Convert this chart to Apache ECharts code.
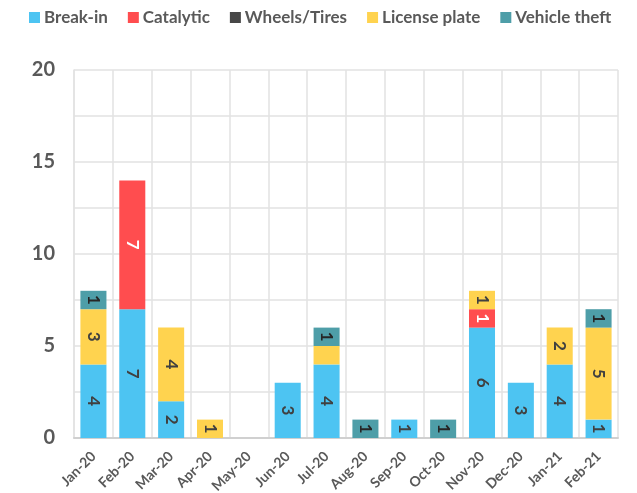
<!DOCTYPE html>
<html>
<head>
<meta charset="utf-8">
<script src="https://cdn.jsdelivr.net/npm/echarts@6/dist/echarts.min.js"></script>
<style>
html,body{margin:0;padding:0;background:#fff;}
#chart{width:637px;height:493px;}
</style>
</head>
<body>
<div id="chart"></div>
<script>
const months = ['Jan-20','Feb-20','Mar-20','Apr-20','May-20','Jun-20','Jul-20','Aug-20','Sep-20','Oct-20','Nov-20','Dec-20','Jan-21','Feb-21'];
const breakIn      = [4, 7, 2, 0, 0, 3, 4, 0, 1, 0, 6, 3, 4, 1];
const catalytic    = [0, 7, 0, 0, 0, 0, 0, 0, 0, 0, 1, 0, 0, 0];
const wheelsTires  = [0, 0, 0, 0, 0, 0, 0, 0, 0, 0, 0, 0, 0, 0];
const licensePlate = [3, 0, 4, 1, 0, 0, 1, 0, 0, 0, 1, 0, 2, 5];
const vehicleTheft = [1, 0, 0, 0, 0, 0, 1, 1, 0, 1, 0, 0, 0, 1];
// segments drawn without a value label
const unlabeled = {'License plate': [6]};

const yTicks = [0, 5, 10, 15, 20];

const FONT = 'Lato, "Open Sans", sans-serif';

function makeSeries(name, values, color, labelColor) {
  const hidden = unlabeled[name] || [];
  return {
    name: name,
    type: 'bar',
    stack: 'total',
    barCategoryGap: '33%',
    itemStyle: { color: color },
    label: {
      show: true,
      position: 'inside',
      rotate: -90,
      color: labelColor,
      fontFamily: FONT,
      fontWeight: 'bold',
      fontSize: 17
    },
    data: values.map((v, i) => {
      if (v === 0) return { value: null };
      const item = { value: v };
      if (hidden.includes(i)) item.label = { show: false };
      return item;
    })
  };
}

const chart = echarts.init(document.getElementById('chart'));
chart.setOption({
  animation: false,
  backgroundColor: '#ffffff',
  legend: {
    top: 4,
    left: 24,
    itemWidth: 11,
    itemHeight: 11,
    itemGap: 20,
    icon: 'rect',
    textStyle: { fontFamily: FONT, fontWeight: 'bold', fontSize: 17, color: '#595959', padding: [0, 0, 0, -1] }
  },
  grid: { left: 74, right: 19, top: 70, bottom: 55, containLabel: false, outerBoundsMode: 'none' },
  xAxis: {
    type: 'category',
    data: months,
    axisLine: { lineStyle: { color: '#d0d0d0', width: 2 } },
    axisTick: { show: false },
    splitLine: { show: true, lineStyle: { color: '#e2e2e2', width: 1.5 } },
    axisLabel: {
      interval: 0,
      rotate: 45,
      fontFamily: FONT,
      fontWeight: 'bold',
      fontSize: 14,
      color: '#595959',
      margin: 16
    }
  },
  yAxis: {
    type: 'value',
    min: yTicks[0],
    max: yTicks[yTicks.length - 1],
    interval: 2.5,
    axisLine: { show: true, lineStyle: { color: '#e2e2e2', width: 1.5 } },
    axisTick: { show: false },
    splitLine: { lineStyle: { color: '#e2e2e2', width: 1.5 } },
    axisLabel: {
      fontFamily: FONT,
      fontWeight: 'bold',
      fontSize: 20,
      color: '#595959',
      margin: 19,
      formatter: v => (yTicks.includes(v) ? String(v) : '')
    }
  },
  series: [
    makeSeries('Break-in', breakIn, '#4DC4F2', '#404040'),
    makeSeries('Catalytic', catalytic, '#FF4D4F', '#ffffff'),
    makeSeries('Wheels/Tires', wheelsTires, '#474747', '#ffffff'),
    makeSeries('License plate', licensePlate, '#FFD34F', '#404040'),
    makeSeries('Vehicle theft', vehicleTheft, '#4E9EA8', '#262626')
  ]
});
</script>
</body>
</html>
